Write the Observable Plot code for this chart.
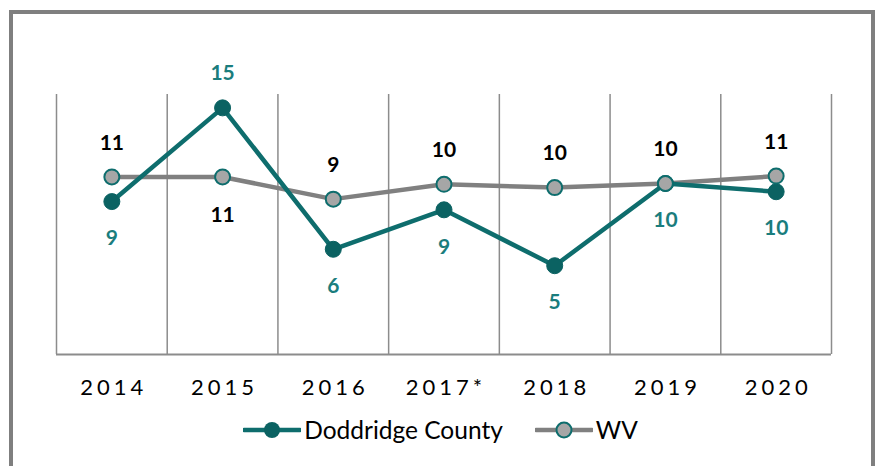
<!DOCTYPE html>
<html>
<head>
<meta charset="utf-8">
<script src="https://cdn.jsdelivr.net/npm/d3@7"></script>
<script src="https://cdn.jsdelivr.net/npm/@observablehq/plot@0.6"></script>
<style>
  html, body { margin: 0; padding: 0; background: #fff; overflow: hidden; }
  body { width: 881px; height: 466px; position: relative; font-family: Lato, "Open Sans", sans-serif; }
  #frame { position: absolute; left: 9px; top: 10px; width: 866px; height: 480px; box-sizing: border-box; border: 4px solid #7f7f7f; pointer-events: none; }
  #chart { position: absolute; left: 0; top: 0; }
  #legend { position: absolute; left: 0; top: 415px; width: 881px; display: flex; justify-content: center; align-items: center; font-size: 24.5px; color: #000; }
  .item { display: flex; align-items: center; }
  .item + .item { margin-left: 32px; }
  .item svg { margin-right: 3px; }
</style>
</head>
<body>
<div id="chart"></div>
<div id="legend"></div>
<div id="frame"></div>
<script>
const years = ["2014", "2015", "2016", "2017*", "2018", "2019", "2020"];
const doddridge = [9.3, 15.0, 6.4, 8.8, 5.4, 10.4, 9.9];
const wv = [10.8, 10.8, 9.45, 10.35, 10.15, 10.4, 10.85];
const seriesNames = ["Doddridge County", "WV"];

const teal = "#0e6d6d";
const tealDot = "#0b6262";
const tealLabel = "#1a7d7d";
const grayLine = "#808080";
const grayFill = "#a6a6a6";

const idx = years.map((_, i) => i);
const boundaries = d3.range(-0.5, years.length, 1);
const dRows = idx.map(i => ({i, v: doddridge[i], above: doddridge[i] > wv[i]}));
const wRows = idx.map(i => ({i, v: wv[i], above: !(doddridge[i] > wv[i])}));
const yMax = 16.3;

const chart = Plot.plot({
  width: 881,
  height: 405,
  marginLeft: 56,
  marginRight: 50,
  marginTop: 86,
  marginBottom: 51,
  style: {fontFamily: "Lato, 'Open Sans', sans-serif", background: "transparent", overflow: "visible"},
  x: {type: "linear", domain: [-0.5, years.length - 0.5], axis: null},
  y: {domain: [0, yMax], axis: null},
  marks: [
    Plot.ruleX(boundaries, {x: d => d, y1: 0, y2: yMax, stroke: "#8c8c8c", strokeWidth: 1.5, insetBottom: -8}),
    Plot.ruleY([0], {stroke: "#8c8c8c", strokeWidth: 2}),
    Plot.text(idx, {x: d => d, y: 0, text: d => years[d], dy: 33, dx: 2, fontSize: 22, fill: "#000"}),
    Plot.line(wRows, {x: "i", y: "v", stroke: grayLine, strokeWidth: 4.5}),
    Plot.line(dRows, {x: "i", y: "v", stroke: teal, strokeWidth: 4.5}),
    Plot.dot(dRows, {x: "i", y: "v", r: 8, fill: tealDot, stroke: tealDot, strokeWidth: 1}),
    Plot.dot(wRows, {x: "i", y: "v", r: 7.5, fill: grayFill, stroke: teal, strokeWidth: 2}),
    Plot.text(dRows.filter(d => d.above), {x: "i", y: "v", text: d => Math.round(d.v), dy: -35, fill: tealLabel, fontSize: 21, fontWeight: "bold"}),
    Plot.text(dRows.filter(d => !d.above), {x: "i", y: "v", text: d => Math.round(d.v), dy: 37, fill: tealLabel, fontSize: 21, fontWeight: "bold"}),
    Plot.text(wRows.filter(d => d.above), {x: "i", y: "v", text: d => Math.round(d.v), dy: -34, fill: "#000", fontSize: 21, fontWeight: "bold"}),
    Plot.text(wRows.filter(d => !d.above), {x: "i", y: "v", text: d => Math.round(d.v), dy: 38, fill: "#000", fontSize: 21, fontWeight: "bold"})
  ]
});
// spaced-out category labels (first text mark group)
d3.select(chart).selectAll('g[aria-label="text"]').filter((d, i) => i === 0)
  .style("letter-spacing", "4px");
document.getElementById("chart").appendChild(chart);

const legend = document.getElementById("legend");
const swatches = [
  `<svg width="58" height="22"><line x1="1" y1="11" x2="57" y2="11" stroke="${teal}" stroke-width="4.5" stroke-linecap="round"/><circle cx="29" cy="11" r="8" fill="${tealDot}"/></svg>`,
  `<svg width="58" height="22"><line x1="1" y1="11" x2="57" y2="11" stroke="${grayLine}" stroke-width="4.5" stroke-linecap="round"/><circle cx="29" cy="11" r="7.5" fill="${grayFill}" stroke="${teal}" stroke-width="2"/></svg>`
];
seriesNames.forEach((name, k) => {
  const item = document.createElement("div");
  item.className = "item";
  item.innerHTML = swatches[k] + `<span>${name}</span>`;
  legend.appendChild(item);
});
</script>
</body>
</html>
